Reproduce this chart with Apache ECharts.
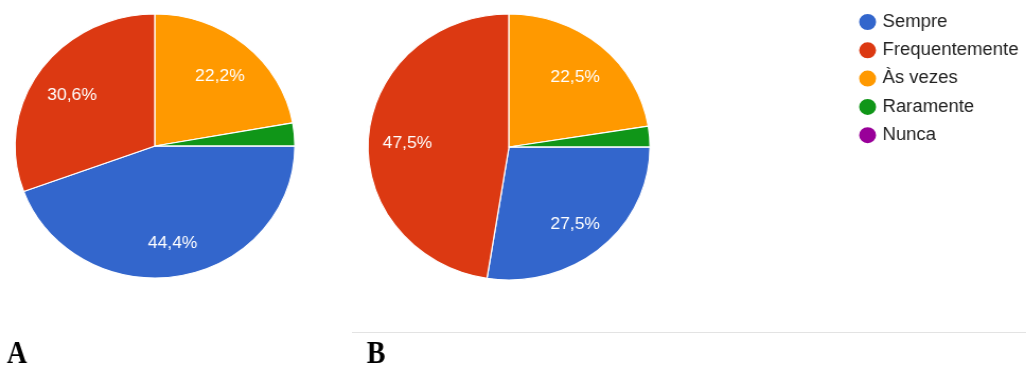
<!DOCTYPE html>
<html>
<head>
<meta charset="utf-8">
<script src="https://cdn.jsdelivr.net/npm/echarts@6/dist/echarts.min.js"></script>
<style>
  html, body { margin: 0; padding: 0; background: #fff; overflow: hidden; }
  #wrap { width: 1026px; height: 365px; overflow: hidden; position: relative; }
  #chart { width: 968px; height: 365px; transform: scaleX(1.06); transform-origin: 0 0; }
</style>
</head>
<body>
<div id="wrap"><div id="chart"></div></div>
<script>
// Data (percent of respondents)
const categories = ['Sempre', 'Frequentemente', 'Às vezes', 'Raramente', 'Nunca'];
const valuesA = [44.4, 30.6, 22.2, 2.8, 0];
const valuesB = [27.5, 47.5, 22.5, 2.5, 0];
const panelLabels = ['A', 'B'];
const colors = ['#3366CC', '#DC3912', '#FF9900', '#109618', '#990099'];

const chart = echarts.init(document.getElementById('chart'), null, { renderer: 'canvas' });

function toData(vals) {
  return categories.map((c, i) => ({ name: c, value: vals[i] }));
}
function fmt(p) {
  return p.value < 5 ? '' : p.value.toFixed(1).replace('.', ',') + '%';
}
function pieSeries(vals, center, r) {
  return [{
    type: 'pie',
    center: center,
    radius: [0, r],
    startAngle: 0,
    clockwise: true,
    animation: false,
    silent: true,
    label: { show: false },
    labelLine: { show: false },
    emphasis: { disabled: true },
    itemStyle: { borderColor: '#ffffff', borderWidth: 1.2 },
    data: toData(vals)
  }, {
    type: 'pie',
    center: center,
    radius: [r * 0.4, r],
    startAngle: 0,
    clockwise: true,
    animation: false,
    silent: true,
    legendHoverLink: false,
    emphasis: { disabled: true },
    itemStyle: { color: 'rgba(0,0,0,0)', borderWidth: 0 },
    labelLine: { show: false },
    label: {
      show: true, position: 'inside', formatter: fmt, offset: [0, 4],
      color: '#ffffff', fontSize: 16.5, fontFamily: 'Liberation Sans, Arial, sans-serif'
    },
    data: toData(vals)
  }];
}

chart.setOption({
  color: colors,
  animation: false,
  legend: {
    orient: 'vertical',
    left: 803.5,
    top: 7,
    icon: 'circle',
    itemWidth: 18,
    itemHeight: 18,
    itemGap: 8.3,
    selectedMode: false,
    data: categories,
    textStyle: { fontSize: 17.5, color: '#222222', fontFamily: 'Liberation Sans, Arial, sans-serif', lineHeight: 20 }
  },
  series: [].concat(
    pieSeries(valuesA, [146.2, 146], 132),
    pieSeries(valuesB, [480.2, 147], 133)
  ),
  graphic: [
    { type: 'line', shape: { x1: 332, y1: 332.5, x2: 968, y2: 332.5 }, style: { stroke: '#e3e3e3', lineWidth: 1 }, silent: true },
    { type: 'text', x: 6.6, y: 370, scaleX: 0.85, style: { text: panelLabels[0], fill: '#000', fontSize: 31, fontWeight: 'bold', fontFamily: 'Liberation Serif, Times New Roman, serif', textVerticalAlign: 'bottom', verticalAlign: 'bottom' }, silent: true },
    { type: 'text', x: 346, y: 370, scaleX: 0.85, style: { text: panelLabels[1], fill: '#000', fontSize: 31, fontWeight: 'bold', fontFamily: 'Liberation Serif, Times New Roman, serif', textVerticalAlign: 'bottom', verticalAlign: 'bottom' }, silent: true }
  ]
});
</script>
</body>
</html>
